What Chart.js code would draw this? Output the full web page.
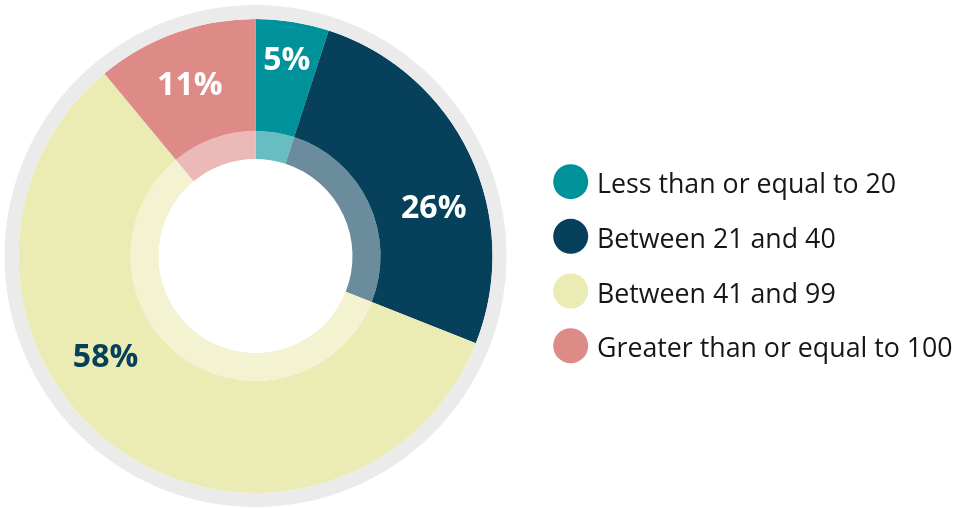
<!DOCTYPE html>
<html>
<head>
<meta charset="utf-8">
<script src="https://cdn.jsdelivr.net/npm/chart.js@4"></script>
<style>
  html, body { margin: 0; padding: 0; background: #ffffff; }
  #wrap { width: 954px; height: 508px; position: relative; }
</style>
</head>
<body>
<div id="wrap"><canvas id="c" width="954" height="508"></canvas></div>
<script>
// ---- data ----
const categories = ['Less than or equal to 20', 'Between 21 and 40', 'Between 41 and 99', 'Greater than or equal to 100'];
const shares = [5, 26, 58, 11];
const percentLabels = ['5%', '26%', '58%', '11%'];
const baseColors = ['#00929a', '#07405a', '#ebebb4', '#de8b88'];
const innerColors = ['#66bec2', '#6a8c9c', '#f3f3d2', '#ebb9b8'];
const labelColors = ['#ffffff', '#ffffff', '#07405a', '#ffffff'];
const ringColor = '#ebebeb';

// percentage labels placed on the coloured ring
const sliceLabels = {
  id: 'sliceLabels',
  afterDatasetsDraw(chart, args, opts) {
    const meta = chart.getDatasetMeta(1);
    const ctx = chart.ctx;
    ctx.save();
    ctx.font = 'bold 32px "Open Sans"';
    ctx.textAlign = 'center';
    ctx.textBaseline = 'alphabetic';
    meta.data.forEach((arc, i) => {
      const p = arc.getProps(['x', 'y', 'startAngle', 'endAngle'], true);
      const a = (p.startAngle + p.endAngle) / 2 + opts.angleShift[i] * Math.PI / 180;
      const r = opts.radius[i];
      const x = p.x + r * Math.cos(a);
      const y = p.y + r * Math.sin(a);
      ctx.fillStyle = labelColors[i];
      ctx.fillText(percentLabels[i], x, y + 11.5);
    });
    ctx.restore();
  }
};

// legend drawn on the right
const sideLegend = {
  id: 'sideLegend',
  afterDraw(chart, args, opts) {
    const ctx = chart.ctx;
    ctx.save();
    ctx.font = '26.75px "Open Sans"';
    ctx.textAlign = 'left';
    ctx.textBaseline = 'alphabetic';
    categories.forEach((name, i) => {
      const base = opts.top + i * opts.step;
      ctx.beginPath();
      ctx.arc(opts.dotX, base - 11.6, opts.dotR, 0, Math.PI * 2);
      ctx.fillStyle = baseColors[i];
      ctx.fill();
      ctx.fillStyle = '#161616';
      ctx.fillText(name, opts.textX, base);
    });
    ctx.restore();
  }
};

new Chart(document.getElementById('c'), {
  type: 'doughnut',
  data: {
    labels: categories,
    datasets: [
      { data: [100], backgroundColor: [ringColor], weight: 14, borderWidth: 0 },
      { data: shares, backgroundColor: baseColors, weight: 112, borderWidth: 0 },
      { data: shares, backgroundColor: innerColors, weight: 28, borderWidth: 0 }
    ]
  },
  options: {
    responsive: false,
    animation: false,
    cutout: 97,
    hoverOffset: 0,
    layout: { padding: { left: 4, right: 447, top: 5, bottom: 1 } },
    plugins: {
      legend: { display: false },
      tooltip: { enabled: false },
      sliceLabels: { angleShift: [0, 9.7, 20.4, -1], radius: [200, 185, 180, 185] },
      sideLegend: { dotX: 570.7, dotR: 17.5, textX: 597, top: 193.3, step: 54.67 }
    }
  },
  plugins: [sliceLabels, sideLegend]
});
</script>
</body>
</html>
